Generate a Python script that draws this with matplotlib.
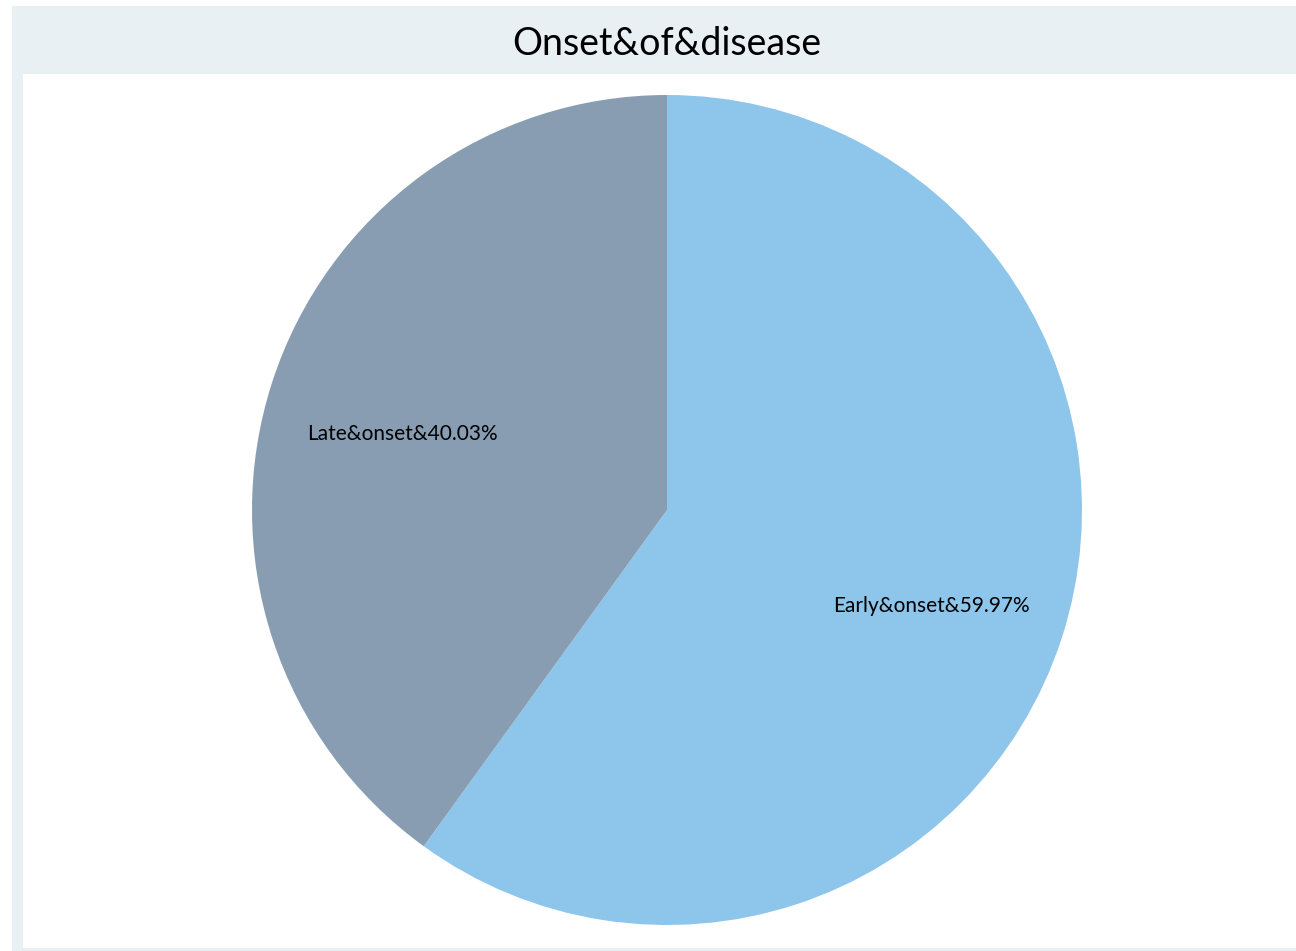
import matplotlib.pyplot as plt
from matplotlib.patches import Rectangle

# dados do gráfico
categorias = ['Early&onset', 'Late&onset']
percentuais = [59.97, 40.03]
cores = ['#8EC5EA', '#889DB2']
titulo = 'Onset&of&disease'

W, H = 1296, 951
fig = plt.figure(figsize=(W / 100, H / 100), dpi=100)
fig.patch.set_facecolor('white')

faixa = '#E8F0F3'
# faixa do título, borda esquerda e borda inferior
fig.add_artist(Rectangle((12 / W, 1 - 74 / H), (W - 12) / W, 68 / H,
                         transform=fig.transFigure, color=faixa, lw=0))
fig.add_artist(Rectangle((12 / W, 3 / H), 11 / W, (H - 77) / H,
                         transform=fig.transFigure, color=faixa, lw=0))
fig.add_artist(Rectangle((12 / W, 0), (W - 12) / W, 3 / H,
                         transform=fig.transFigure, color=faixa, lw=0))

fig.text(667 / W, 1 - 44 / H, titulo, ha='center', va='center',
         fontsize=27, family='Lato', color='black')

ax = fig.add_axes([252 / W, 26 / H, 830 / W, 830 / H])
rotulos = [f'{c}&{p:.2f}%' for c, p in zip(categorias, percentuais)]
wedges, textos = ax.pie(percentuais, labels=rotulos, colors=cores,
                        startangle=90, counterclock=False,
                        labeldistance=0.67, radius=1,
                        wedgeprops={'linewidth': 0})
for t in textos:
    t.set_horizontalalignment('center')
    t.set_verticalalignment('top')
    t.set_fontsize(15)
    t.set_family('Lato')
ax.set_xlim(-1, 1)
ax.set_ylim(-1, 1)
ax.set_aspect('equal')
ax.axis('off')

plt.savefig('out.png', dpi=100)
